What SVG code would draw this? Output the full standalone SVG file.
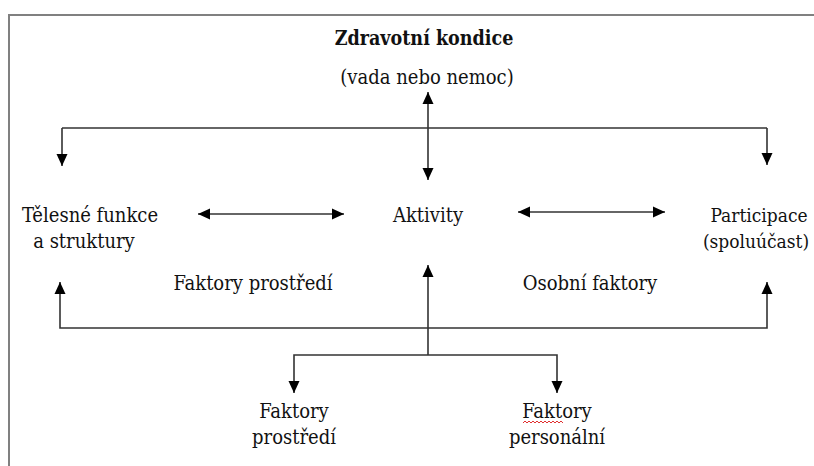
<svg xmlns="http://www.w3.org/2000/svg" width="814" height="466" viewBox="0 0 814 466">
<style>
text{font-family:"DejaVu Serif Condensed","DejaVu Serif","Liberation Serif",serif;font-stretch:condensed;font-size:20px;fill:#111;text-anchor:middle}
.title{font-weight:bold;font-size:19.5px}
.sm{font-size:19px}
.ln{stroke:#333;stroke-width:1.6;fill:none}
.frame{stroke:#808080;stroke-width:2;fill:none}
</style>
<defs>
<marker id="ah" markerUnits="userSpaceOnUse" markerWidth="12" markerHeight="12" refX="12" refY="5.5" orient="auto-start-reverse" viewBox="0 0 12 11">
<path d="M0,0 L12,5.5 L0,11 z" fill="#000"/>
</marker>
</defs>
<rect width="814" height="466" fill="#fff"/>
<path class="frame" d="M9,466 V15 H814"/>
<g id="connectors">
<path class="ln" d="M428,92 V180" marker-start="url(#ah)" marker-end="url(#ah)"/>
<path class="ln" d="M62,128 H767"/>
<path class="ln" d="M62,128 V166" marker-end="url(#ah)"/>
<path class="ln" d="M767,128 V165" marker-end="url(#ah)"/>
<path class="ln" d="M198,214 H344" marker-start="url(#ah)" marker-end="url(#ah)"/>
<path class="ln" d="M518,212 H665" marker-start="url(#ah)" marker-end="url(#ah)"/>
<path class="ln" d="M60,282 V328 H767 V282" marker-start="url(#ah)" marker-end="url(#ah)"/>
<path class="ln" d="M428,265 V355" marker-start="url(#ah)"/>
<path class="ln" d="M294,393 V355 H557 V393" marker-start="url(#ah)" marker-end="url(#ah)"/>
</g>
<g id="zdravotni"><text class="title" x="424" y="45">Zdravotní kondice</text><text x="427" y="84">(vada nebo nemoc)</text></g>
<g id="telesne"><text x="90" y="222">Tělesné funkce</text><text x="84" y="248">a struktury</text></g>
<g id="aktivity"><text x="428" y="222">Aktivity</text></g>
<g id="participace"><text class="sm" x="759" y="222">Participace</text><text class="sm" x="756" y="248">(spoluúčast)</text></g>
<g id="faktory-prostredi-label"><text x="253" y="290">Faktory prostředí</text></g>
<g id="osobni"><text x="590" y="290">Osobní faktory</text></g>
<g id="faktory-prostredi"><text x="294" y="418">Faktory</text><text x="294" y="444">prostředí</text></g>
<g id="faktory-personalni"><text x="557" y="418">Faktory</text><text x="557" y="444">personální</text>
<path d="M523,423 l2,-2 l2,2 l2,-2 l2,2 l2,-2 l2,2 l2,-2 l2,2 l2,-2 l2,2 l2,-2 l2,2 l2,-2 l2,2 l2,-2 l2,2 l2,-2 l2,2 l2,-2 l2,2" fill="none" stroke="#e03030" stroke-width="1"/></g>
</svg>
